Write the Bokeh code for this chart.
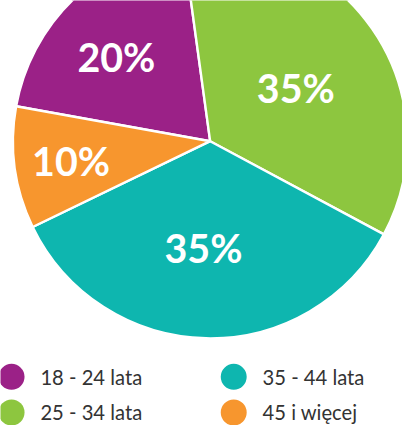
import math
from bokeh.plotting import figure
from bokeh.models import Range1d, ColumnDataSource
from bokeh.core.properties import value
from bokeh.embed import file_html
from bokeh.resources import INLINE

# ---- data ----
categories = ["18 - 24 lata", "25 - 34 lata", "35 - 44 lata", "45 i więcej"]
shares = [20, 35, 35, 10]
colors = ["#9B2187", "#8DC63F", "#0EB6AF", "#F7962E"]

# ---- layout: data units = reference-image pixels (418 x 441), y flipped ----
REF_W, REF_H = 418, 441
W, H = 402, 425
S = W / REF_W                  # pixel scale of the figure
CX, CY, R = 218, 146, 205
START_DEG = 169.8              # math angle where first slice starts, going clockwise
label_dist = [131, 105, 111, 146]
label_nudge = [4.3, -2.8, -2.4, 0.0]   # degrees (math orientation)

p = figure(width=W, height=H, output_backend="svg", toolbar_location=None,
           x_range=Range1d(0, REF_W), y_range=Range1d(-REF_H, 0),
           min_border=0, outline_line_color=None, background_fill_color="white",
           border_fill_color="white")
p.axis.visible = False
p.grid.visible = False

total = float(sum(shares))
starts, ends, lx, ly, labels = [], [], [], [], []
cum = 0.0
for i, s in enumerate(shares):
    a0 = math.radians(START_DEG) - cum / total * 2 * math.pi
    cum += s
    a1 = math.radians(START_DEG) - cum / total * 2 * math.pi
    starts.append(a0)
    ends.append(a1)
    mid = (a0 + a1) / 2 + math.radians(label_nudge[i])
    lx.append(CX + label_dist[i] * math.cos(mid))
    ly.append(-CY + label_dist[i] * math.sin(mid))
    labels.append(f"{s}%")

src = ColumnDataSource(dict(start=starts, end=ends, color=colors))
p.wedge(x=CX, y=-CY, radius=R, start_angle="start", end_angle="end",
        direction="clock", fill_color="color", line_color="white",
        line_width=2.5 * S, source=src)

p.text(x=lx, y=ly, text=labels, text_color="white",
       text_font=value("Lato"), text_font_style="bold",
       text_font_size=f"{41 * S:.1f}px", text_align="center",
       text_baseline="middle")

# legend: two columns of two rows
col_x = [11.5, 242.5]
row_mid = [390.5, 427.5]
mx, my, tx, ty = [], [], [], []
for i, c in enumerate(categories):
    col, row = divmod(i, 2)
    mx.append(col_x[col])
    my.append(-row_mid[row])
    tx.append(col_x[col] + 30)
    ty.append(-row_mid[row])
p.scatter(x=mx, y=my, size=27 * S, color=colors, line_color=None)
p.text(x=tx, y=ty, text=categories, text_color="#333333",
       text_font=value("Lato"), text_font_size=f"{21 * S:.1f}px",
       text_align="left", text_baseline="middle")

open("out.html", "w").write(file_html(p, INLINE))
